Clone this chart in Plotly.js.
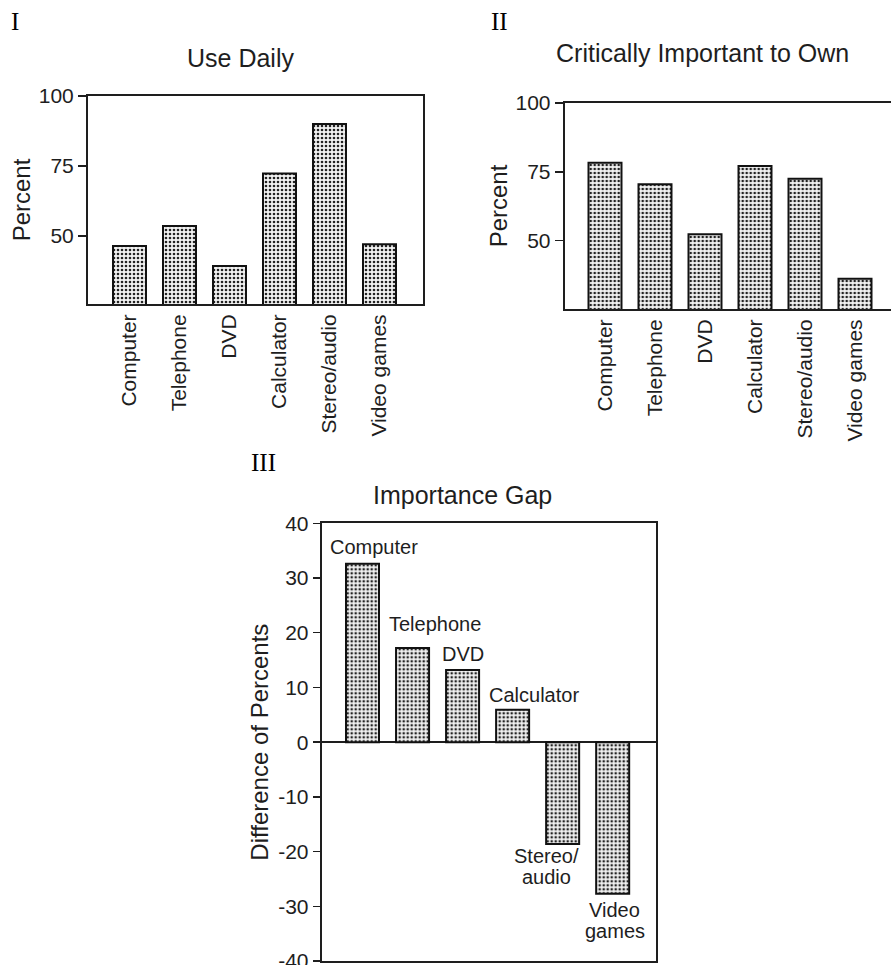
<!DOCTYPE html>
<html>
<head>
<meta charset="utf-8">
<script src="https://cdn.plot.ly/plotly-3.0.1.min.js"></script>
<style>
  html, body { margin: 0; padding: 0; background: #fff; overflow: hidden; }
  #chart { width: 900px; height: 965px; }
</style>
</head>
<body>
<div id="chart"></div>
<script>
// ---- data ----
const categories = ['Computer', 'Telephone', 'DVD', 'Calculator', 'Stereo/audio', 'Video games'];
const useDaily = [46.4, 53.6, 39.3, 72.3, 90.0, 47.0];
const criticallyImportant = [78.3, 70.5, 52.3, 77.1, 72.5, 36.2];
const importanceGap = [32.6, 17.2, 13.2, 5.9, -18.6, -27.7];
const gapLabels = ['Computer', 'Telephone', 'DVD', 'Calculator', 'Stereo/<br>audio', 'Video<br>games'];
const percentTicks = [50, 75, 100];
const gapTicks = [-40, -30, -20, -10, 0, 10, 20, 30, 40];
const panelTitles = ['Use Daily', 'Critically Important to Own', 'Importance Gap'];
const panelNumbers = ['I', 'II', 'III'];

// ---- style ----
const W = 900, H = 965;
const px = v => v / W;
const py = v => 1 - v / H;
const ink = '#1e1e1e';
const sans = 'Liberation Sans, Arial, sans-serif';
const serif = 'Liberation Serif, Times New Roman, serif';

const barStyle = {
  color: '#e6e6e6',
  line: { color: '#111', width: 2 },
  pattern: { shape: '.', fgcolor: '#222', bgcolor: '#f2f2f2', size: 4, solidity: 0.34 }
};

const traces = [
  { type: 'bar', x: categories, y: useDaily, xaxis: 'x', yaxis: 'y', width: 0.66, marker: barStyle, hoverinfo: 'x+y' },
  { type: 'bar', x: categories, y: criticallyImportant, xaxis: 'x2', yaxis: 'y2', width: 0.66, marker: barStyle, hoverinfo: 'x+y' },
  { type: 'bar', x: categories, y: importanceGap, xaxis: 'x3', yaxis: 'y3', width: 0.66, marker: barStyle, hoverinfo: 'x+y' }
];

const tickFont = { family: sans, size: 21, color: ink };
const axTitleFont = { family: sans, size: 24, color: ink };

function xCat(domain, range, showLabels, anchor) {
  return {
    domain: domain, range: range, type: 'category', anchor: anchor,
    showline: true, linecolor: ink, linewidth: 2, mirror: true,
    showgrid: false, zeroline: false, ticks: '', fixedrange: true,
    showticklabels: showLabels, tickangle: -90, tickfont: tickFont, ticklabelstandoff: 0
  };
}
function yVal(domain, range, tickvals, title, standoff, anchor) {
  return {
    domain: domain, range: range, tickvals: tickvals, ticktext: tickvals.map(String), anchor: anchor,
    showline: true, linecolor: ink, linewidth: 2, mirror: true,
    showgrid: false, ticks: 'outside', ticklen: 8, tickwidth: 1.5, tickcolor: ink,
    tickfont: tickFont, fixedrange: true, zeroline: false, ticklabeloverflow: 'allow',
    title: { text: title, font: axTitleFont, standoff: standoff }
  };
}

const layout = {
  width: W, height: H,
  margin: { l: 0, r: 0, t: 0, b: 0 },
  paper_bgcolor: '#fff', plot_bgcolor: '#fff',
  showlegend: false, bargap: 0,
  font: { family: sans, color: ink },
  xaxis: xCat([px(88), px(423)], [-0.83, 5.87], true, 'y'),
  yaxis: yVal([py(304), py(96)], [25.7, 100], percentTicks, 'Percent', 1, 'x'),
  xaxis2: xCat([px(564.7), px(897)], [-0.806, 5.84], true, 'y2'),
  yaxis2: yVal([py(309), py(103)], [25.2, 100], percentTicks, 'Percent', 1, 'x2'),
  xaxis3: xCat([px(321.7), px(655.7)], [-0.816, 5.86], false, 'y3'),
  yaxis3: Object.assign(yVal([py(961), py(523.3)], [-40, 40], gapTicks, 'Difference of Percents', 3, 'x3'),
    { zeroline: true, zerolinecolor: ink, zerolinewidth: 2, ticklen: 7 }),
  annotations: []
};

// panel titles
const titlePos = [[240, 58], [702.5, 53], [462, 495]];
panelTitles.forEach((t, i) => {
  layout.annotations.push({
    text: t, xref: 'paper', yref: 'paper', x: px(titlePos[i][0]), y: py(titlePos[i][1]),
    xanchor: 'center', yanchor: 'middle', showarrow: false,
    font: { family: sans, size: 25, color: ink }
  });
});

// panel numbers
const numPos = [[14.5, 21], [499.5, 21], [263, 462]];
panelNumbers.forEach((t, i) => {
  layout.annotations.push({
    text: t, xref: 'paper', yref: 'paper', x: px(numPos[i][0]), y: py(numPos[i][1]),
    xanchor: 'center', yanchor: 'middle', showarrow: false,
    font: { family: serif, size: 25, color: '#000' }
  });
});

// bar labels for the gap chart (offsets in px from bar end)
const labelShift = [[11.5, 17], [22.5, 24], [0, 16], [21, 15], [-16, -23], [2, -27]];
const lineGap = 21;
gapLabels.forEach((lab, i) => {
  const lines = lab.split('<br>');
  lines.forEach((ln, j) => {
    const offset = (j - (lines.length - 1) / 2) * lineGap;
    layout.annotations.push({
      text: ln, xref: 'x3', yref: 'y3', x: categories[i], y: importanceGap[i],
      xanchor: 'center', yanchor: 'middle', showarrow: false,
      xshift: labelShift[i][0], yshift: labelShift[i][1] - offset,
      font: { family: sans, size: 20, color: ink }
    });
  });
});

Plotly.newPlot('chart', traces, layout, { displayModeBar: false, staticPlot: true });
</script>
</body>
</html>
